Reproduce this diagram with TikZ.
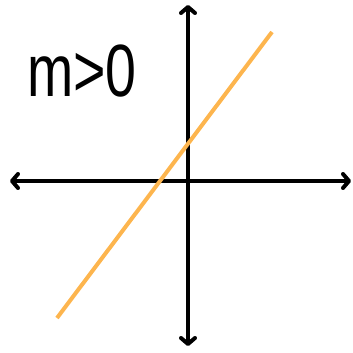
\documentclass[tikz,border=0pt]{standalone}
\usepackage{fontspec}
\setmainfont{Liberation Sans}
\usetikzlibrary{arrows.meta}
\definecolor{slopeorange}{HTML}{FDB54E}
\tikzset{
  axis/.style={line width=4pt, -{Straight Barb[length=6pt,width=14pt,round]}},
  slopeline/.style={line width=4pt, slopeorange},
}
\begin{document}
\begin{tikzpicture}[x=1pt,y=-1pt]
  \useasboundingbox (0,0) rectangle (353,353);
  % Origin and axis ends
  \coordinate (origin) at (188,181);
  \coordinate (xneg) at (10,181);
  \coordinate (xpos) at (351,181);
  \coordinate (ypos) at (188,5);
  \coordinate (yneg) at (188,346);
  % Axes
  \draw[axis] (origin) -- (xneg);
  \draw[axis] (origin) -- (xpos);
  \draw[axis] (origin) -- (ypos);
  \draw[axis] (origin) -- (yneg);
  % Line with positive slope
  \coordinate (lowend) at (57,318);
  \coordinate (highend) at (272,32);
  \draw[slopeline] (lowend) -- (highend);
  % Label
  \node[font=\fontsize{74}{74}\selectfont, inner sep=0pt, xscale=0.75] (label) at (82,71) {m>0};
\end{tikzpicture}
\end{document}
